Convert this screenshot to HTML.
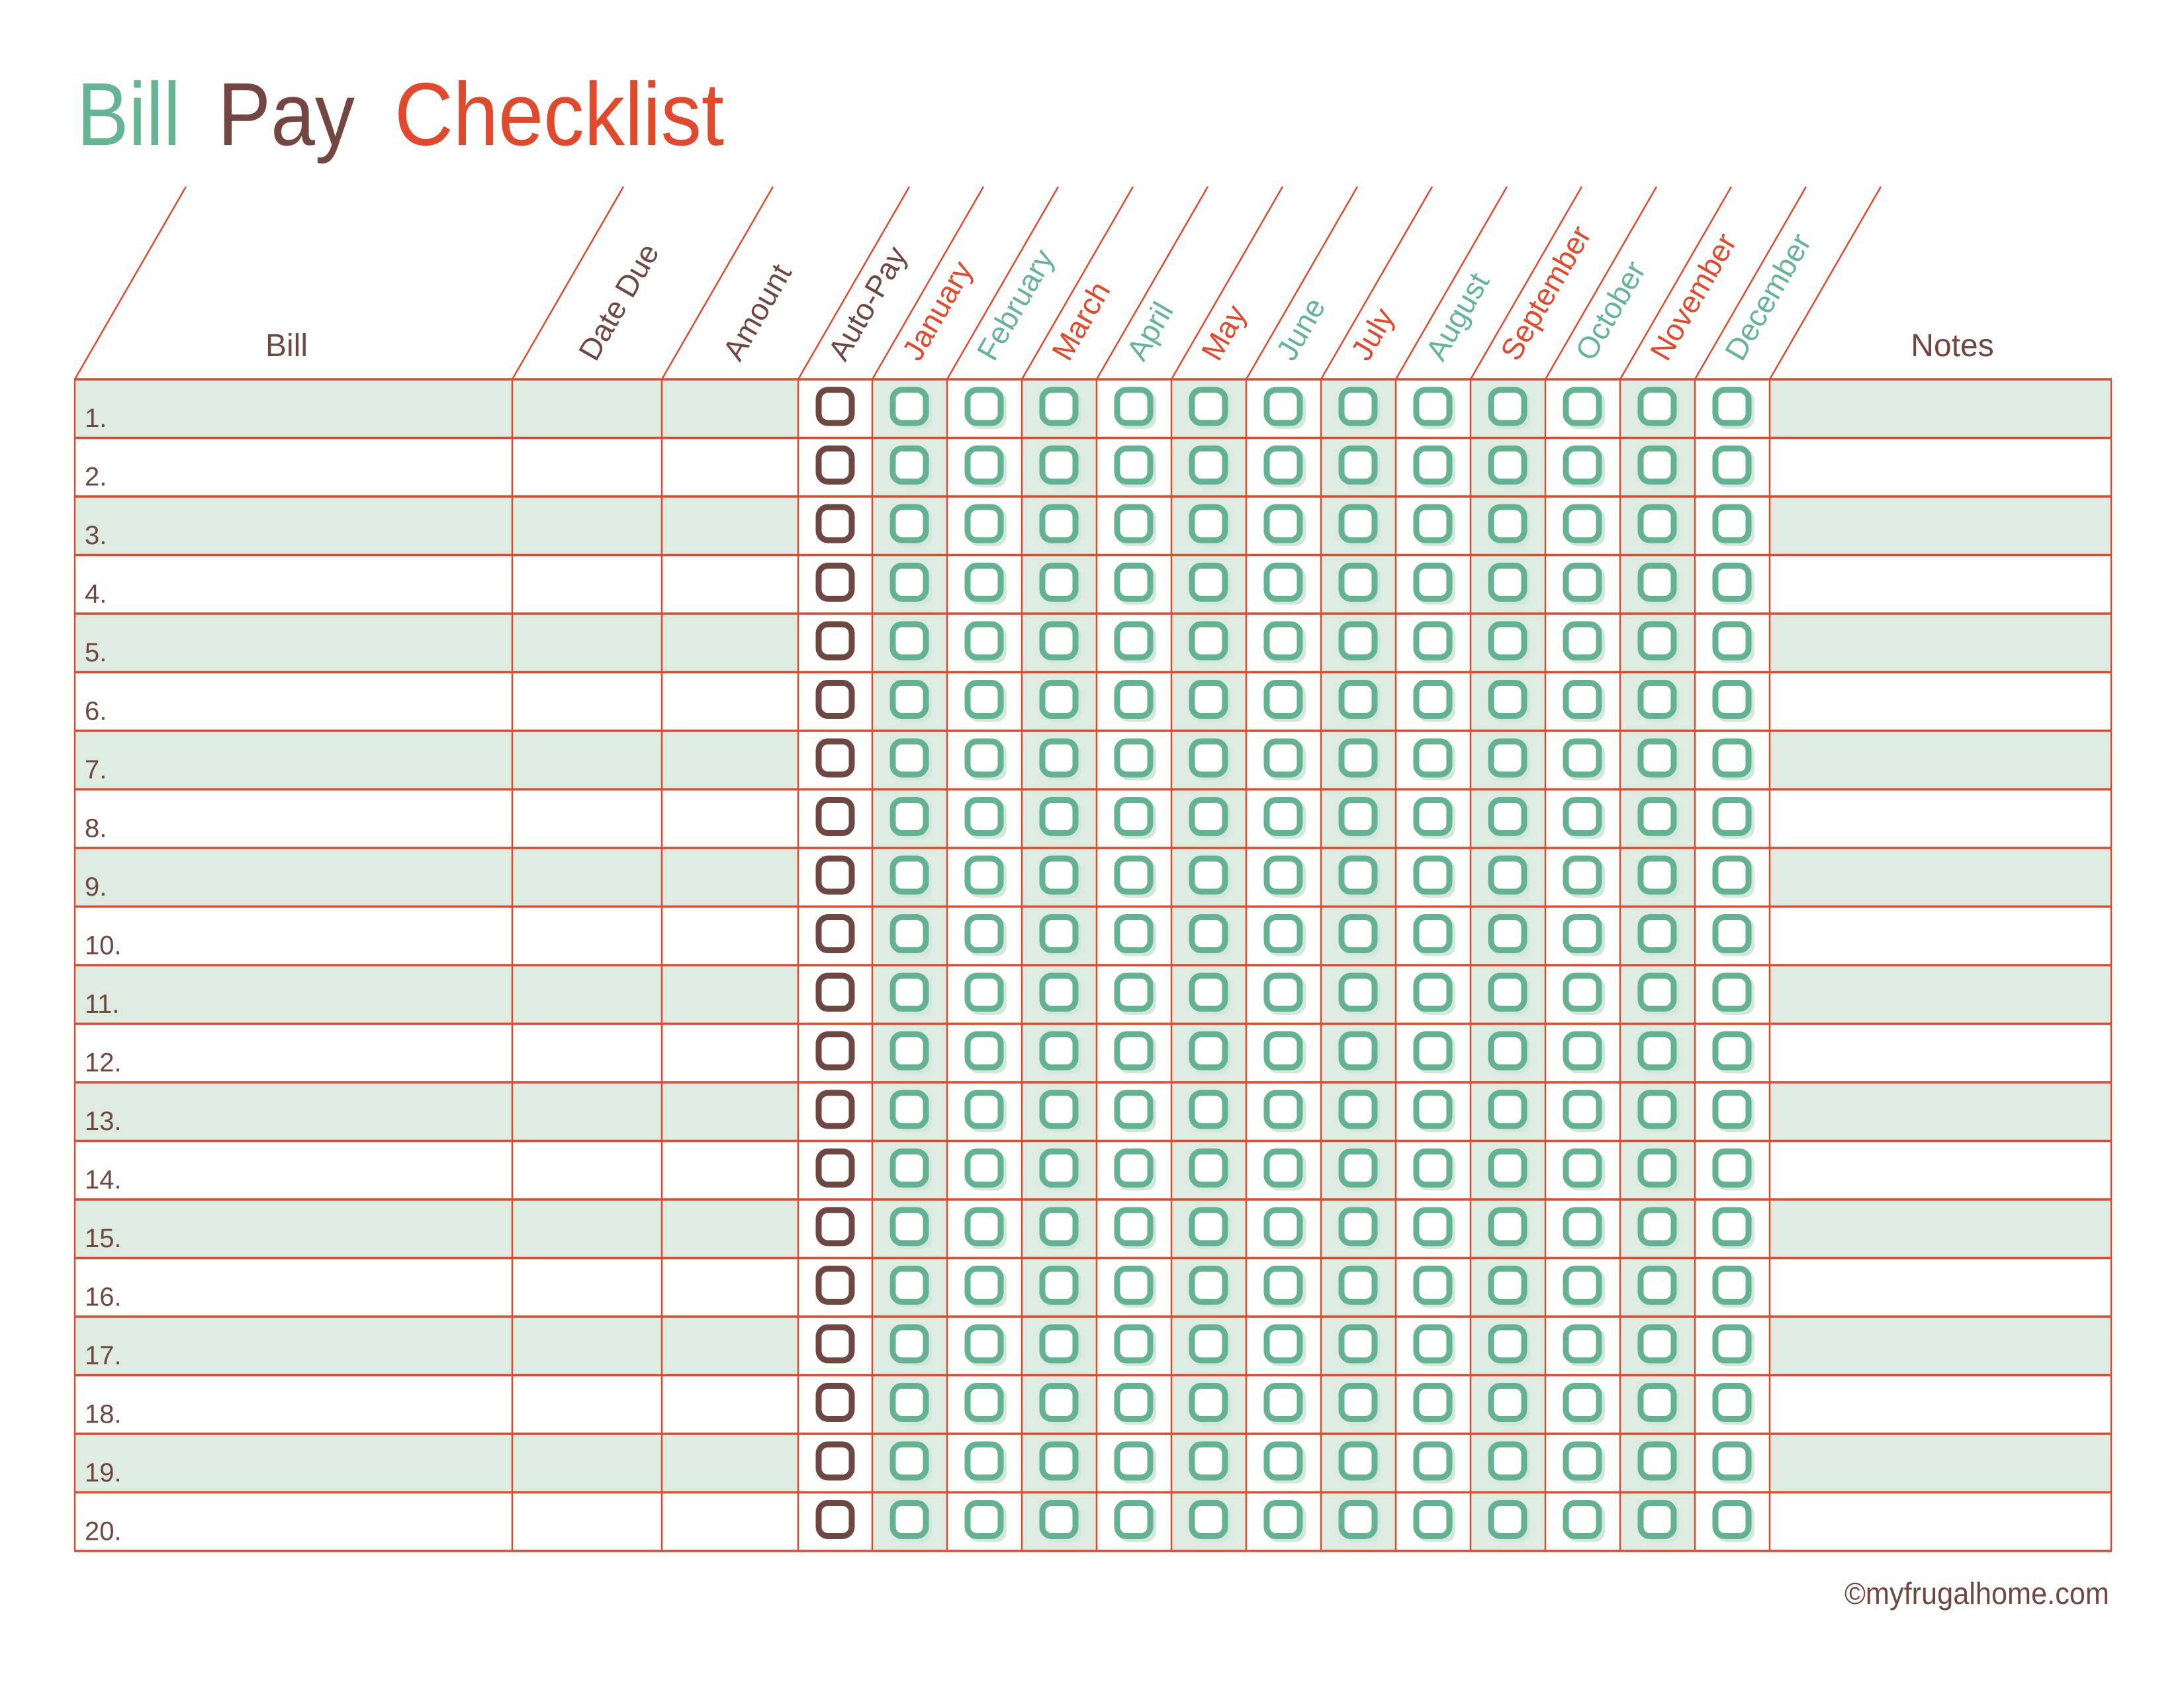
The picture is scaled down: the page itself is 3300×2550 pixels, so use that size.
<!DOCTYPE html>
<html><head><meta charset="utf-8"><style>
html,body{margin:0;padding:0;background:#fff;}
svg{display:block;}
text{font-family:"Liberation Sans Narrow","Liberation Sans",sans-serif;}
</style></head><body>
<svg width="3300" height="2550" viewBox="0 0 3300 2550" xmlns="http://www.w3.org/2000/svg">
<defs>
<pattern id="tb" patternUnits="userSpaceOnUse" x="1318" y="573" width="113" height="88.5">
<rect x="32" y="17" width="58" height="58" rx="16" fill="#d3e8dc"/>
<rect x="31" y="16" width="50" height="50" rx="14" fill="#fff" stroke="#63b291" stroke-width="9"/>
</pattern>
<pattern id="bb" patternUnits="userSpaceOnUse" x="1206" y="573" width="112" height="88.5">
<rect x="31" y="16" width="50" height="50" rx="14" fill="#fff" stroke="#6e4742" stroke-width="9"/>
</pattern>
</defs>
<text x="116" y="219" font-size="135" fill="#65b595" textLength="157" lengthAdjust="spacingAndGlyphs">Bill</text>
<text x="329" y="219" font-size="135" fill="#734641" textLength="207" lengthAdjust="spacingAndGlyphs">Pay</text>
<text x="596" y="219" font-size="135" fill="#e0492c" textLength="498" lengthAdjust="spacingAndGlyphs">Checklist</text>

<g fill="#deebe1">
<rect x="113" y="573" width="1093" height="88.5"/><rect x="2674" y="573" width="516" height="88.5"/>
<rect x="113" y="750" width="1093" height="88.5"/><rect x="2674" y="750" width="516" height="88.5"/>
<rect x="113" y="927" width="1093" height="88.5"/><rect x="2674" y="927" width="516" height="88.5"/>
<rect x="113" y="1104" width="1093" height="88.5"/><rect x="2674" y="1104" width="516" height="88.5"/>
<rect x="113" y="1281" width="1093" height="88.5"/><rect x="2674" y="1281" width="516" height="88.5"/>
<rect x="113" y="1458" width="1093" height="88.5"/><rect x="2674" y="1458" width="516" height="88.5"/>
<rect x="113" y="1635" width="1093" height="88.5"/><rect x="2674" y="1635" width="516" height="88.5"/>
<rect x="113" y="1812" width="1093" height="88.5"/><rect x="2674" y="1812" width="516" height="88.5"/>
<rect x="113" y="1989" width="1093" height="88.5"/><rect x="2674" y="1989" width="516" height="88.5"/>
<rect x="113" y="2166" width="1093" height="88.5"/><rect x="2674" y="2166" width="516" height="88.5"/>
<rect x="1318" y="573" width="113" height="1770"/>
<rect x="1544" y="573" width="113" height="1770"/>
<rect x="1770" y="573" width="113" height="1770"/>
<rect x="1996" y="573" width="113" height="1770"/>
<rect x="2222" y="573" width="113" height="1770"/>
<rect x="2448" y="573" width="113" height="1770"/>
</g>
<rect x="1318" y="573" width="1356" height="1770" fill="url(#tb)"/>
<rect x="1206" y="573" width="112" height="1770" fill="url(#bb)"/>

<g stroke="#dc4a30" stroke-width="2.5" fill="none">
<line x1="113" y1="573" x2="281" y2="282"/>
<line x1="774" y1="573" x2="942" y2="282"/>
<line x1="1000" y1="573" x2="1168" y2="282"/>
<line x1="1206" y1="573" x2="1374" y2="282"/>
<line x1="1318" y1="573" x2="1486" y2="282"/>
<line x1="1431" y1="573" x2="1599" y2="282"/>
<line x1="1544" y1="573" x2="1712" y2="282"/>
<line x1="1657" y1="573" x2="1825" y2="282"/>
<line x1="1770" y1="573" x2="1938" y2="282"/>
<line x1="1883" y1="573" x2="2051" y2="282"/>
<line x1="1996" y1="573" x2="2164" y2="282"/>
<line x1="2109" y1="573" x2="2277" y2="282"/>
<line x1="2222" y1="573" x2="2390" y2="282"/>
<line x1="2335" y1="573" x2="2503" y2="282"/>
<line x1="2448" y1="573" x2="2616" y2="282"/>
<line x1="2561" y1="573" x2="2729" y2="282"/>
<line x1="2674" y1="573" x2="2842" y2="282"/>
<line x1="113" y1="573" x2="113" y2="2343"/>
<line x1="774" y1="573" x2="774" y2="2343"/>
<line x1="1000" y1="573" x2="1000" y2="2343"/>
<line x1="1206" y1="573" x2="1206" y2="2343"/>
<line x1="1318" y1="573" x2="1318" y2="2343"/>
<line x1="1431" y1="573" x2="1431" y2="2343"/>
<line x1="1544" y1="573" x2="1544" y2="2343"/>
<line x1="1657" y1="573" x2="1657" y2="2343"/>
<line x1="1770" y1="573" x2="1770" y2="2343"/>
<line x1="1883" y1="573" x2="1883" y2="2343"/>
<line x1="1996" y1="573" x2="1996" y2="2343"/>
<line x1="2109" y1="573" x2="2109" y2="2343"/>
<line x1="2222" y1="573" x2="2222" y2="2343"/>
<line x1="2335" y1="573" x2="2335" y2="2343"/>
<line x1="2448" y1="573" x2="2448" y2="2343"/>
<line x1="2561" y1="573" x2="2561" y2="2343"/>
<line x1="2674" y1="573" x2="2674" y2="2343"/>
<line x1="3190" y1="573" x2="3190" y2="2343"/>
</g>
<g stroke="#dc4a30" stroke-width="3.5">
<line x1="112" y1="573" x2="3191" y2="573"/>
<line x1="112" y1="661.5" x2="3191" y2="661.5"/>
<line x1="112" y1="750" x2="3191" y2="750"/>
<line x1="112" y1="838.5" x2="3191" y2="838.5"/>
<line x1="112" y1="927" x2="3191" y2="927"/>
<line x1="112" y1="1015.5" x2="3191" y2="1015.5"/>
<line x1="112" y1="1104" x2="3191" y2="1104"/>
<line x1="112" y1="1192.5" x2="3191" y2="1192.5"/>
<line x1="112" y1="1281" x2="3191" y2="1281"/>
<line x1="112" y1="1369.5" x2="3191" y2="1369.5"/>
<line x1="112" y1="1458" x2="3191" y2="1458"/>
<line x1="112" y1="1546.5" x2="3191" y2="1546.5"/>
<line x1="112" y1="1635" x2="3191" y2="1635"/>
<line x1="112" y1="1723.5" x2="3191" y2="1723.5"/>
<line x1="112" y1="1812" x2="3191" y2="1812"/>
<line x1="112" y1="1900.5" x2="3191" y2="1900.5"/>
<line x1="112" y1="1989" x2="3191" y2="1989"/>
<line x1="112" y1="2077.5" x2="3191" y2="2077.5"/>
<line x1="112" y1="2166" x2="3191" y2="2166"/>
<line x1="112" y1="2254.5" x2="3191" y2="2254.5"/>
<line x1="112" y1="2343" x2="3191" y2="2343"/>
</g>

<text x="433" y="538" font-size="48" fill="#6e4742" text-anchor="middle">Bill</text>
<text x="2950" y="538" font-size="48" fill="#6e4742" text-anchor="middle">Notes</text>
<g font-size="46">
<text transform="translate(900,548) rotate(-60)" fill="#6e4742">Date Due</text>
<text transform="translate(1118,548) rotate(-60)" fill="#6e4742">Amount</text>
<text transform="translate(1277,548) rotate(-60)" fill="#6e4742">Auto-Pay</text>
<text transform="translate(1389,548) rotate(-60)" fill="#e0492c">January</text>
<text transform="translate(1502,548) rotate(-60)" fill="#65b595">February</text>
<text transform="translate(1615,548) rotate(-60)" fill="#e0492c">March</text>
<text transform="translate(1728,548) rotate(-60)" fill="#65b595">April</text>
<text transform="translate(1841,548) rotate(-60)" fill="#e0492c">May</text>
<text transform="translate(1954,548) rotate(-60)" fill="#65b595">June</text>
<text transform="translate(2067,548) rotate(-60)" fill="#e0492c">July</text>
<text transform="translate(2180,548) rotate(-60)" fill="#65b595">August</text>
<text transform="translate(2293,548) rotate(-60)" fill="#e0492c">September</text>
<text transform="translate(2406,548) rotate(-60)" fill="#65b595">October</text>
<text transform="translate(2519,548) rotate(-60)" fill="#e0492c">November</text>
<text transform="translate(2632,548) rotate(-60)" fill="#65b595">December</text>
</g>

<g font-size="40" fill="#6e4742">
<text x="128" y="645">1.</text>
<text x="128" y="733.5">2.</text>
<text x="128" y="822">3.</text>
<text x="128" y="910.5">4.</text>
<text x="128" y="999">5.</text>
<text x="128" y="1087.5">6.</text>
<text x="128" y="1176">7.</text>
<text x="128" y="1264.5">8.</text>
<text x="128" y="1353">9.</text>
<text x="128" y="1441.5">10.</text>
<text x="128" y="1530">11.</text>
<text x="128" y="1618.5">12.</text>
<text x="128" y="1707">13.</text>
<text x="128" y="1795.5">14.</text>
<text x="128" y="1884">15.</text>
<text x="128" y="1972.5">16.</text>
<text x="128" y="2061">17.</text>
<text x="128" y="2149.5">18.</text>
<text x="128" y="2238">19.</text>
<text x="128" y="2326.5">20.</text>
</g>

<text x="3187" y="2423" font-size="46" fill="#6e4742" text-anchor="end" textLength="400" lengthAdjust="spacingAndGlyphs">©myfrugalhome.com</text>
</svg>
</body></html>
